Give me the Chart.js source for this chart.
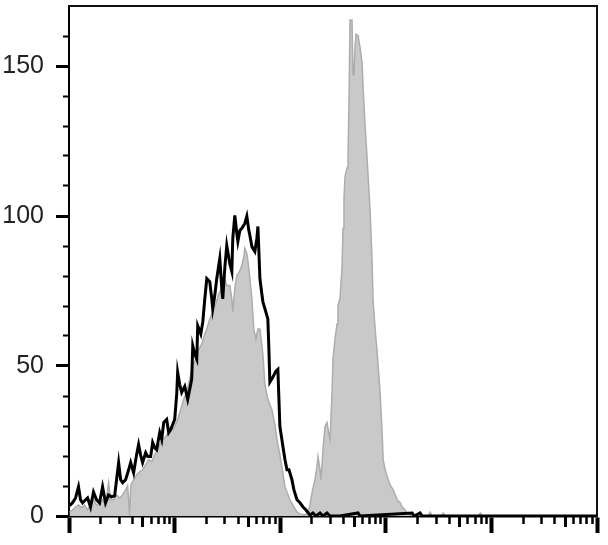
<!DOCTYPE html>
<html>
<head>
<meta charset="utf-8">
<script src="https://cdn.jsdelivr.net/npm/chart.js@4.4.1/dist/chart.umd.min.js"></script>
<style>
  html, body { margin: 0; padding: 0; background: #fff; }
  #wrap { width: 608px; height: 545px; }
</style>
</head>
<body>
<div id="wrap"><canvas id="c" width="608" height="545"></canvas></div>
<script>
// ---- Data ----
// x positions are log10(fluorescence intensity), counts are events per channel
const blackLog = [0.005,0.033,0.062,0.090,0.109,0.128,0.157,0.176,0.204,0.232,0.261,0.289,0.318,0.346,0.375,0.403,0.432,0.470,0.489,0.508,0.536,0.565,0.584,0.612,0.640,0.659,0.678,0.697,0.726,0.745,0.773,0.792,0.811,0.830,0.859,0.878,0.897,0.925,0.944,0.963,0.982,1.001,1.020,1.029,1.048,1.067,1.096,1.124,1.143,1.162,1.172,1.191,1.210,1.219,1.248,1.267,1.286,1.305,1.333,1.352,1.361,1.380,1.399,1.428,1.447,1.456,1.475,1.494,1.523,1.542,1.551,1.570,1.589,1.599,1.618,1.637,1.665,1.684,1.703,1.713,1.732,1.760,1.779,1.789,1.808,1.826,1.836,1.855,1.883,1.893,1.902,1.931,1.959,1.978,1.988,1.997,2.016,2.026,2.045,2.064,2.083,2.111,2.130,2.159,2.187,2.216,2.244,2.282,2.310,2.339,2.377,2.405,2.443,2.472,2.566,2.737,2.756,3.250,3.269,3.325,3.345,5.0];
const blackCount = [3.4,4.4,6.0,9.7,5.4,4.4,5.4,6.0,3.0,8.0,5.4,4.4,9.7,4.4,7.0,6.4,6.7,17.8,12.1,11.1,12.1,15.4,17.8,14.4,20.4,23.8,20.4,17.8,21.1,19.8,19.8,24.5,22.8,22.1,27.8,25.5,31.2,32.2,27.8,28.8,30.5,32.2,40.6,47.9,43.9,41.2,43.2,38.9,42.2,45.6,56.7,54.0,52.3,63.4,60.7,64.7,72.4,79.1,78.1,72.4,69.1,73.4,79.1,85.8,75.8,72.4,82.5,90.2,84.1,81.5,92.5,100.2,94.2,91.5,95.2,95.9,97.5,99.9,95.2,93.5,89.8,88.2,92.5,96.5,79.1,74.1,71.4,69.1,65.7,55.6,44.6,46.3,48.3,48.9,38.9,29.8,25.5,23.1,18.8,15.4,15.4,12.1,8.7,5.4,4.4,3.0,2.0,0.3,1.0,0,1.0,0,1.0,0,0,1.0,0,1.0,0,1.0,0,0];

const grayLog = [0.005,0.033,0.062,0.090,0.119,0.147,0.176,0.204,0.232,0.261,0.289,0.318,0.346,0.375,0.394,0.422,0.451,0.479,0.508,0.536,0.555,0.574,0.584,0.612,0.640,0.669,0.697,0.726,0.754,0.783,0.811,0.840,0.859,0.887,0.916,0.944,0.973,1.001,1.029,1.058,1.086,1.115,1.143,1.172,1.200,1.229,1.257,1.286,1.305,1.333,1.361,1.390,1.418,1.447,1.475,1.494,1.523,1.542,1.551,1.570,1.589,1.618,1.637,1.656,1.665,1.684,1.694,1.713,1.732,1.750,1.770,1.789,1.808,1.836,1.855,1.883,1.921,1.950,1.969,1.997,2.016,2.045,2.092,2.130,2.159,2.187,2.234,2.263,2.282,2.301,2.329,2.348,2.358,2.377,2.386,2.405,2.424,2.443,2.462,2.472,2.491,2.500,2.519,2.538,2.547,2.566,2.585,2.595,2.604,2.614,2.633,2.642,2.652,2.661,2.680,2.690,2.699,2.709,2.718,2.737,2.756,2.775,2.785,2.804,2.823,2.832,2.851,2.870,2.880,2.899,2.918,2.946,2.965,2.975,2.994,3.022,3.041,3.070,3.108,3.136,3.155,3.183,3.202,3.231,3.278,3.401,3.420,3.439,3.525,3.544,3.563,3.876,3.895,3.914,5.0];
const grayCount = [1.3,2.0,3.0,3.7,2.7,3.7,2.0,3.7,5.4,3.7,3.7,5.4,3.7,11.1,5.4,5.4,7.0,6.0,7.0,8.7,10.1,0.3,10.1,12.1,13.7,14.7,15.4,17.1,18.8,18.1,20.4,22.1,23.8,25.5,26.5,27.8,28.8,29.8,32.2,35.5,38.9,41.2,45.6,49.9,52.3,55.6,57.3,60.7,62.3,65.7,68.0,70.7,74.1,75.8,79.1,76.8,76.8,72.4,68.0,75.8,80.1,81.8,83.5,86.5,89.2,87.5,85.1,79.1,72.4,62.3,59.0,62.3,62.3,54.0,43.9,38.9,35.5,30.5,25.5,20.4,16.4,9.7,5.4,3.0,1.3,0.7,0.3,1.0,3.7,7.7,12.1,16.4,19.8,15.4,12.1,22.1,29.8,31.2,27.2,25.5,41.2,52.3,59.0,64.0,70.1,72.4,82.5,95.9,105.9,113.3,116.0,119.3,139.4,165.3,165.3,147.2,147.2,156.2,160.6,160.2,156.2,151.2,142.8,130.1,119.3,113.6,101.9,85.1,71.4,62.3,54.6,41.2,27.8,18.8,15.4,12.1,10.4,8.7,5.4,4.4,3.0,2.0,1.0,0.3,0,0,1.3,0,0,1.0,0,0,1.0,0,0];

// Axis tick values
const xMajorTicks = [1, 10, 100, 1000, 10000, 100000];
const xMidTicks = [5, 50, 500, 5000, 50000];
const xMinorTicks = [2,3,4,6,7,8,9, 20,30,40,60,70,80,90, 200,300,400,600,700,800,900, 2000,3000,4000,6000,7000,8000,9000, 20000,30000,40000,60000,70000,80000,90000];
const yMajorTicks = [0, 50, 100, 150];
const yMinorTicks = [10,20,30,40,60,70,80,90,110,120,130,140,160];

const toPoints = (logs, counts) => logs.map((l, i) => ({ x: Math.pow(10, l), y: counts[i] }));

const setTicks = (arr) => (scale) => { scale.ticks = arr.map(v => ({ value: v })); };

const tickAxis = (arr, len, width) => ({
  axis: 'x', type: 'logarithmic', position: { y: 0 }, min: 1, max: 100000,
  afterBuildTicks: setTicks(arr),
  ticks: { display: false },
  grid: { drawOnChartArea: false, tickLength: len, tickWidth: width, tickColor: '#000' },
  border: { display: false }
});

new Chart(document.getElementById('c'), {
  type: 'line',
  data: {
    datasets: [
      {
        label: 'control',
        data: toPoints(blackLog, blackCount),
        borderColor: '#000000',
        borderWidth: 3,
        fill: false,
        pointRadius: 0,
        tension: 0
      },
      {
        label: 'stained',
        data: toPoints(grayLog, grayCount),
        borderColor: '#adadad',
        backgroundColor: '#c9c9c9',
        borderWidth: 1.5,
        fill: 'origin',
        pointRadius: 0,
        tension: 0
      }
    ]
  },
  options: {
    responsive: false,
    animation: false,
    layout: { padding: { top: 6, right: 11, left: 0, bottom: 0 } },
    plugins: { legend: { display: false }, tooltip: { enabled: false } },
    scales: {
      x: {
        type: 'logarithmic', position: 'bottom', min: 1, max: 100000,
        afterBuildTicks: setTicks(xMajorTicks),
        ticks: { display: false },
        grid: { drawOnChartArea: false, tickLength: 17, tickWidth: 4, tickColor: '#000' },
        border: { display: true, color: '#000', width: 2.5 },
        afterFit: (s) => { s.height = 29; s.paddingLeft = 0; s.paddingRight = 0; }
      },
      xMid: tickAxis(xMidTicks, 11, 3),
      xMinor: tickAxis(xMinorTicks, 8, 2.5),
      y: {
        type: 'linear', position: 'left', min: 0, max: 170,
        afterBuildTicks: setTicks(yMajorTicks),
        ticks: {
          color: '#222',
          padding: 12,
          font: { family: "'Liberation Sans', Arial, sans-serif", size: 25 }
        },
        grid: { drawOnChartArea: false, tickLength: 13, tickWidth: 3, tickColor: '#000' },
        border: { display: true, color: '#000', width: 2 },
        afterFit: (s) => { s.width = 69; s.paddingTop = 0; s.paddingBottom = 0; }
      },
      yMinor: {
        axis: 'y', type: 'linear', position: { x: 1 }, min: 0, max: 170,
        afterBuildTicks: setTicks(yMinorTicks),
        ticks: { display: false },
        grid: { drawOnChartArea: false, tickLength: 6, tickWidth: 2, tickColor: '#000' },
        border: { display: false }
      },
      xTop: {
        axis: 'x', type: 'linear', position: 'top',
        ticks: { display: false },
        grid: { display: false, drawTicks: false },
        border: { display: true, color: '#111', width: 2 },
        afterFit: (s) => { s.height = 0; }
      },
      yRight: {
        axis: 'y', type: 'linear', position: 'right',
        ticks: { display: false },
        grid: { display: false, drawTicks: false },
        border: { display: true, color: '#111', width: 2 },
        afterFit: (s) => { s.width = 0; }
      }
    }
  }
});
</script>
</body>
</html>
